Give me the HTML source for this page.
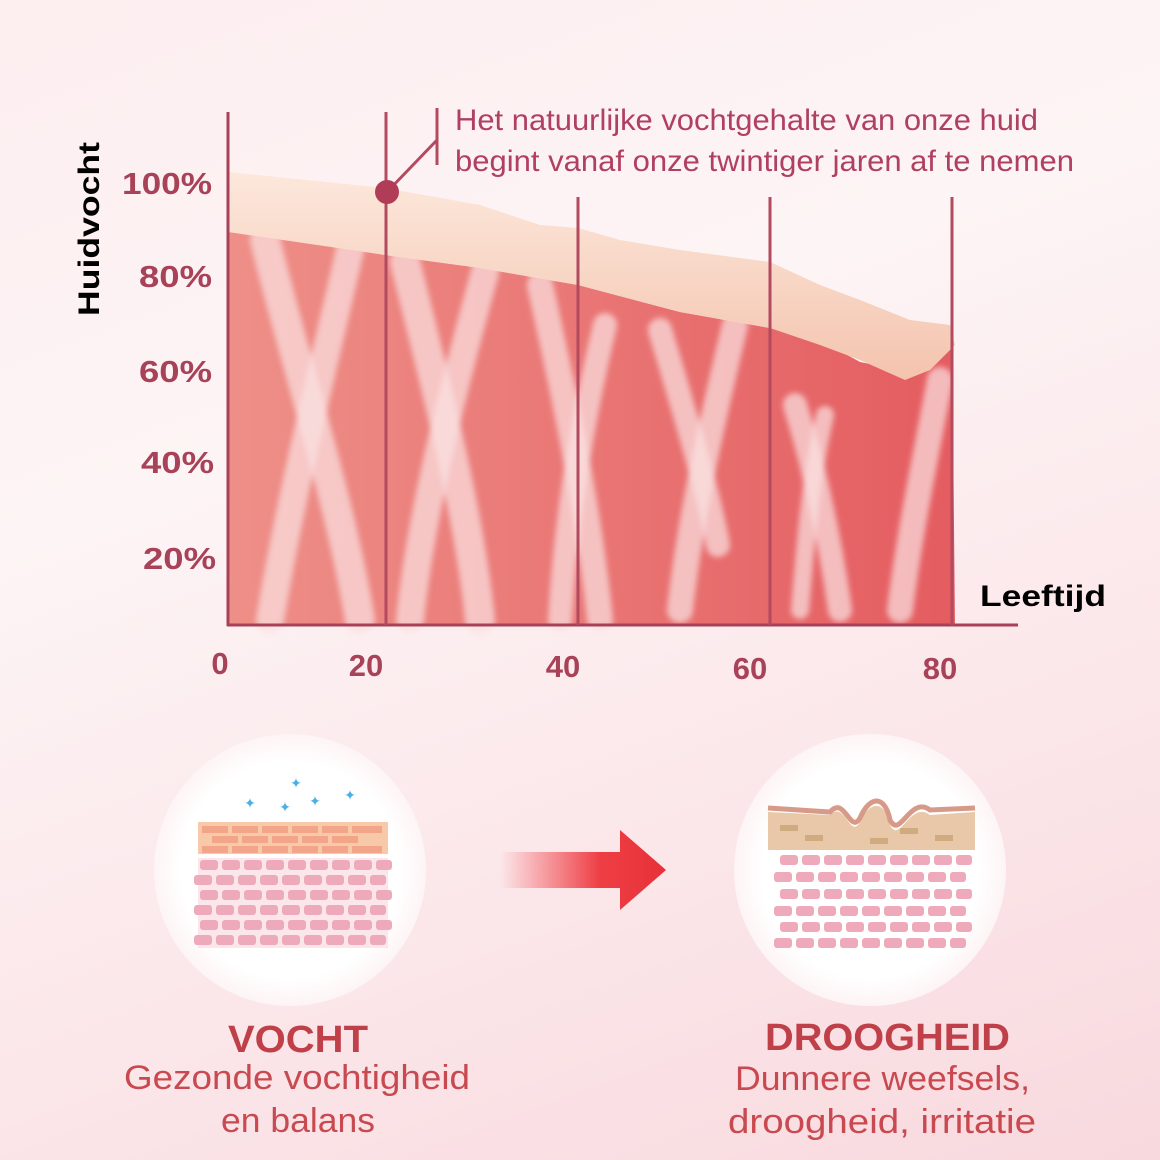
<!DOCTYPE html>
<html><head><meta charset="utf-8"><style>
html,body{margin:0;padding:0;}
body{width:1160px;height:1160px;overflow:hidden;background:linear-gradient(160deg,#fdeef0 0%,#fdf4f5 35%,#fbe6e9 70%,#f8d9de 100%);}
svg{display:block}
text{font-family:"Liberation Sans","DejaVu Sans",sans-serif}
</style></head><body>
<svg width="1160" height="1160" viewBox="0 0 1160 1160" xmlns="http://www.w3.org/2000/svg">
<defs>
<linearGradient id="fill" x1="0" x2="1" y1="0" y2="0">
<stop offset="0" stop-color="#ee8f88"/><stop offset="1" stop-color="#e45c60"/></linearGradient>
<linearGradient id="band" x1="0" x2="0" y1="0" y2="1">
<stop offset="0" stop-color="#fce8dc"/><stop offset="1" stop-color="#f4c4ae"/></linearGradient>
<linearGradient id="arr" x1="0" x2="1">
<stop offset="0" stop-color="#f0434a" stop-opacity="0"/><stop offset="0.6" stop-color="#ee3f45"/><stop offset="1" stop-color="#e83038"/></linearGradient>
<radialGradient id="circ"><stop offset="0.8" stop-color="#fff"/><stop offset="1" stop-color="#fdf4f5"/></radialGradient>
<filter id="blur"><feGaussianBlur stdDeviation="3"/></filter>
<g id="row"><rect x="200" y="0" width="18" height="10" rx="3"/><rect x="222" y="0" width="18" height="10" rx="3"/><rect x="244" y="0" width="18" height="10" rx="3"/><rect x="266" y="0" width="18" height="10" rx="3"/><rect x="288" y="0" width="18" height="10" rx="3"/><rect x="310" y="0" width="18" height="10" rx="3"/><rect x="332" y="0" width="18" height="10" rx="3"/><rect x="354" y="0" width="18" height="10" rx="3"/><rect x="376" y="0" width="16" height="10" rx="3"/></g>
</defs>
<!-- pink area -->
<path d="M228,230 L385,255 L480,268 L578,285 L680,312 L770,328 L820,340 L860,362 L910,372 L952,330 L955,625 L228,625 Z" fill="url(#fill)"/>
<!-- fibers -->
<g stroke="#fbe3e3" stroke-opacity="0.7" stroke-linecap="round" fill="none" filter="url(#blur)">
<path d="M265,240 C300,380 340,500 360,620" stroke-width="30"/>
<path d="M350,250 C320,380 290,500 270,620" stroke-width="28"/>
<path d="M405,262 C440,400 470,520 480,620" stroke-width="30"/>
<path d="M485,272 C450,400 420,520 410,620" stroke-width="28"/>
<path d="M540,285 C570,420 590,520 600,620" stroke-width="26"/>
<path d="M605,325 C580,430 565,530 560,620" stroke-width="24"/>
<path d="M660,330 C690,430 710,500 718,545" stroke-width="24"/>
<path d="M735,325 C710,430 690,520 680,610" stroke-width="26"/>
<path d="M795,405 C815,470 830,540 840,610" stroke-width="24"/>
<path d="M825,415 C810,480 805,550 800,610" stroke-width="18"/>
<path d="M940,380 C925,460 910,530 900,610" stroke-width="26"/>
</g>
<!-- cream band -->
<path d="M228,172 L385,188 L480,205 L540,225 L578,228 L620,240 L680,250 L770,262 L820,285 L860,300 L910,320 L950,325 L955,345 L930,370 L905,380 L860,360 L820,345 L770,328 L680,312 L578,285 L480,268 L385,255 L228,232 Z" fill="url(#band)"/>
<!-- axes -->
<g stroke="#a84058" stroke-width="3">
<line x1="228" y1="112" x2="228" y2="626"/>
<line x1="227" y1="625" x2="1018" y2="625"/>
</g>
<g stroke="#b24a60" stroke-width="3">
<line x1="386" y1="112" x2="386" y2="625"/>
<line x1="578" y1="197" x2="578" y2="625"/>
<line x1="770" y1="197" x2="770" y2="625"/>
<line x1="952" y1="197" x2="952" y2="625"/>
<line x1="387" y1="192" x2="437" y2="140"/>
<line x1="437" y1="108" x2="437" y2="165"/>
</g>
<circle cx="387" cy="192" r="12" fill="#b03c58"/>
<text x="455" y="130" font-size="30" fill="#b04060" textLength="583" lengthAdjust="spacingAndGlyphs">Het natuurlijke vochtgehalte van onze huid</text>
<text x="455" y="171" font-size="30" fill="#b04060" textLength="619" lengthAdjust="spacingAndGlyphs">begint vanaf onze twintiger jaren af te nemen</text>
<g font-size="31" font-weight="bold" fill="#a84258">
<text x="122" y="194" textLength="90" lengthAdjust="spacingAndGlyphs">100%</text>
<text x="139" y="287" textLength="73" lengthAdjust="spacingAndGlyphs">80%</text>
<text x="139" y="382" textLength="73" lengthAdjust="spacingAndGlyphs">60%</text>
<text x="141" y="473" textLength="73" lengthAdjust="spacingAndGlyphs">40%</text>
<text x="143" y="569" textLength="73" lengthAdjust="spacingAndGlyphs">20%</text></g>
<text transform="translate(99,316) rotate(-90)" font-size="30" font-weight="bold" fill="#000" textLength="174" lengthAdjust="spacingAndGlyphs">Huidvocht</text>
<g font-size="31" font-weight="bold" fill="#a84258" text-anchor="middle">
<text x="220" y="674">0</text><text x="366" y="676">20</text><text x="563" y="677">40</text>
<text x="750" y="679">60</text><text x="940" y="679">80</text></g>
<text x="980" y="606" font-size="30" font-weight="bold" fill="#000" textLength="126" lengthAdjust="spacingAndGlyphs">Leeftijd</text>
<!-- circles -->
<circle cx="290" cy="870" r="136" fill="url(#circ)"/>
<circle cx="870" cy="870" r="136" fill="url(#circ)"/>
<!-- left skin -->
<rect x="198" y="822" width="190" height="32" fill="#f7c9a8"/>
<g fill="#f3a58a">
<rect x="202" y="826" width="26" height="7"/><rect x="232" y="826" width="26" height="7"/><rect x="262" y="826" width="26" height="7"/><rect x="292" y="826" width="26" height="7"/><rect x="322" y="826" width="26" height="7"/><rect x="352" y="826" width="30" height="7"/>
<rect x="212" y="836" width="26" height="7"/><rect x="242" y="836" width="26" height="7"/><rect x="272" y="836" width="26" height="7"/><rect x="302" y="836" width="26" height="7"/><rect x="332" y="836" width="26" height="7"/>
<rect x="202" y="846" width="26" height="7"/><rect x="232" y="846" width="26" height="7"/><rect x="262" y="846" width="26" height="7"/><rect x="292" y="846" width="26" height="7"/><rect x="322" y="846" width="26" height="7"/><rect x="352" y="846" width="30" height="7"/>
</g>
<rect x="198" y="858" width="190" height="90" fill="#fbe6ec"/>
<g fill="#eeaabb">
<use href="#row" y="860"/><use href="#row" y="875" x="-6"/><use href="#row" y="890"/><use href="#row" y="905" x="-6"/><use href="#row" y="920"/><use href="#row" y="935" x="-6"/>
</g>
<g fill="#4aaee8" font-size="14" text-anchor="middle"><text x="250" y="808">✦</text><text x="296" y="788">✦</text><text x="315" y="806">✦</text><text x="350" y="800">✦</text><text x="285" y="812">✦</text></g>
<!-- right skin -->
<path d="M768,812 L830,815 C845,800 850,840 860,822 C870,800 885,800 890,825 C900,845 910,800 930,815 L975,812 L975,850 L768,850 Z" fill="#e8c8a8"/>
<path d="M768,808 L830,812 C845,795 850,835 860,818 C870,795 885,795 890,820 C900,840 910,795 930,810 L975,808" stroke="#d89a88" stroke-width="5" fill="none"/>
<g fill="#c8a070" opacity="0.7"><rect x="780" y="825" width="18" height="6"/><rect x="805" y="835" width="18" height="6"/><rect x="900" y="828" width="18" height="6"/><rect x="935" y="835" width="18" height="6"/><rect x="870" y="838" width="18" height="6"/></g>
<g fill="#eeaabb">
<use href="#row" y="855" x="580"/><use href="#row" y="872" x="574"/><use href="#row" y="889" x="580"/><use href="#row" y="906" x="574"/><use href="#row" y="922" x="580"/><use href="#row" y="938" x="574"/>
</g>
<!-- arrow -->
<path d="M500,852 L620,852 L620,830 L666,870 L620,910 L620,888 L500,888 Z" fill="url(#arr)"/>
<!-- labels -->
<text x="228" y="1052" font-size="38" font-weight="bold" fill="#c0404a" textLength="140" lengthAdjust="spacingAndGlyphs">VOCHT</text>
<text x="124" y="1089" font-size="34" fill="#c84a50" textLength="346" lengthAdjust="spacingAndGlyphs">Gezonde vochtigheid</text>
<text x="221" y="1132" font-size="34" fill="#c84a50" textLength="154" lengthAdjust="spacingAndGlyphs">en balans</text>
<text x="765" y="1050" font-size="38" font-weight="bold" fill="#c0404a" textLength="245" lengthAdjust="spacingAndGlyphs">DROOGHEID</text>
<text x="735" y="1090" font-size="34" fill="#c84a50" textLength="295" lengthAdjust="spacingAndGlyphs">Dunnere weefsels,</text>
<text x="728" y="1133" font-size="34" fill="#c84a50" textLength="308" lengthAdjust="spacingAndGlyphs">droogheid, irritatie</text>
</svg>
</body></html>
